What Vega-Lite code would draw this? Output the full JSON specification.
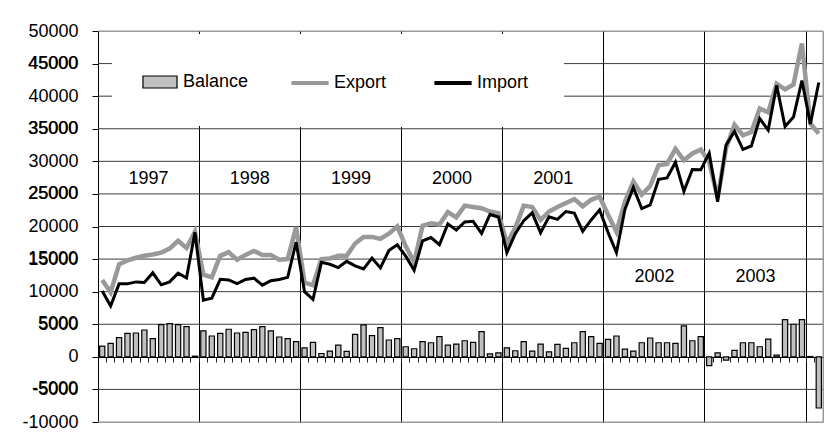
{
  "$schema": "https://vega.github.io/schema/vega-lite/v6.json",
  "autosize": {"type": "none"},
  "padding": {"left": 98, "top": 31, "right": 7, "bottom": 24},
  "width": 725,
  "height": 391,
  "background": "white",
  "config": {
    "font": "Liberation Sans",
    "view": {"stroke": "#999999", "strokeWidth": 1}
  },
  "datasets": {
    "trade": [
      {"month": "1997-01", "Export": 11800, "Import": 10100, "Balance": 1650},
      {"month": "1997-02", "Export": 9900, "Import": 7800, "Balance": 2060},
      {"month": "1997-03", "Export": 14200, "Import": 11200, "Balance": 2940},
      {"month": "1997-04", "Export": 14800, "Import": 11200, "Balance": 3600},
      {"month": "1997-05", "Export": 15200, "Import": 11500, "Balance": 3660},
      {"month": "1997-06", "Export": 15500, "Import": 11400, "Balance": 4120},
      {"month": "1997-07", "Export": 15700, "Import": 12900, "Balance": 2780},
      {"month": "1997-08", "Export": 16000, "Import": 11050, "Balance": 4950},
      {"month": "1997-09", "Export": 16600, "Import": 11500, "Balance": 5100},
      {"month": "1997-10", "Export": 17800, "Import": 12850, "Balance": 4950},
      {"month": "1997-11", "Export": 16700, "Import": 12100, "Balance": 4640},
      {"month": "1997-12", "Export": 19200, "Import": 19100, "Balance": 100},
      {"month": "1998-01", "Export": 12600, "Import": 8700, "Balance": 3970},
      {"month": "1998-02", "Export": 12200, "Import": 9000, "Balance": 3200},
      {"month": "1998-03", "Export": 15500, "Import": 11900, "Balance": 3600},
      {"month": "1998-04", "Export": 16050, "Import": 11800, "Balance": 4230},
      {"month": "1998-05", "Export": 14900, "Import": 11240, "Balance": 3660},
      {"month": "1998-06", "Export": 15640, "Import": 11880, "Balance": 3760},
      {"month": "1998-07", "Export": 16250, "Import": 12070, "Balance": 4180},
      {"month": "1998-08", "Export": 15640, "Import": 11000, "Balance": 4640},
      {"month": "1998-09", "Export": 15640, "Import": 11670, "Balance": 3970},
      {"month": "1998-10", "Export": 14900, "Import": 11860, "Balance": 3040},
      {"month": "1998-11", "Export": 15000, "Import": 12200, "Balance": 2780},
      {"month": "1998-12", "Export": 19900, "Import": 17600, "Balance": 2320},
      {"month": "1999-01", "Export": 11400, "Import": 10000, "Balance": 1390},
      {"month": "1999-02", "Export": 11000, "Import": 8800, "Balance": 2220},
      {"month": "1999-03", "Export": 15000, "Import": 14500, "Balance": 515},
      {"month": "1999-04", "Export": 15100, "Import": 14200, "Balance": 880},
      {"month": "1999-05", "Export": 15500, "Import": 13700, "Balance": 1800},
      {"month": "1999-06", "Export": 15500, "Import": 14650, "Balance": 825},
      {"month": "1999-07", "Export": 17400, "Import": 13950, "Balance": 3450},
      {"month": "1999-08", "Export": 18400, "Import": 13500, "Balance": 4900},
      {"month": "1999-09", "Export": 18400, "Import": 15150, "Balance": 3250},
      {"month": "1999-10", "Export": 18100, "Import": 13650, "Balance": 4480},
      {"month": "1999-11", "Export": 18900, "Import": 16300, "Balance": 2580},
      {"month": "1999-12", "Export": 20000, "Import": 17200, "Balance": 2780},
      {"month": "2000-01", "Export": 17000, "Import": 15450, "Balance": 1550},
      {"month": "2000-02", "Export": 14500, "Import": 13300, "Balance": 1240},
      {"month": "2000-03", "Export": 20100, "Import": 17800, "Balance": 2320},
      {"month": "2000-04", "Export": 20500, "Import": 18300, "Balance": 2160},
      {"month": "2000-05", "Export": 20300, "Import": 17200, "Balance": 3090},
      {"month": "2000-06", "Export": 22200, "Import": 20400, "Balance": 1800},
      {"month": "2000-07", "Export": 21400, "Import": 19450, "Balance": 1960},
      {"month": "2000-08", "Export": 23200, "Import": 20700, "Balance": 2470},
      {"month": "2000-09", "Export": 23000, "Import": 20800, "Balance": 2220},
      {"month": "2000-10", "Export": 22800, "Import": 18950, "Balance": 3870},
      {"month": "2000-11", "Export": 22300, "Import": 21850, "Balance": 460},
      {"month": "2000-12", "Export": 22050, "Import": 21450, "Balance": 620},
      {"month": "2001-01", "Export": 17400, "Import": 16000, "Balance": 1390},
      {"month": "2001-02", "Export": 19800, "Import": 18900, "Balance": 930},
      {"month": "2001-03", "Export": 23200, "Import": 20900, "Balance": 2320},
      {"month": "2001-04", "Export": 23000, "Import": 22100, "Balance": 880},
      {"month": "2001-05", "Export": 21000, "Import": 19050, "Balance": 1960},
      {"month": "2001-06", "Export": 22300, "Import": 21500, "Balance": 770},
      {"month": "2001-07", "Export": 23000, "Import": 21100, "Balance": 1910},
      {"month": "2001-08", "Export": 23600, "Import": 22300, "Balance": 1290},
      {"month": "2001-09", "Export": 24200, "Import": 22050, "Balance": 2160},
      {"month": "2001-10", "Export": 23100, "Import": 19250, "Balance": 3870},
      {"month": "2001-11", "Export": 24100, "Import": 21000, "Balance": 3090},
      {"month": "2001-12", "Export": 24600, "Import": 22550, "Balance": 2060},
      {"month": "2002-01", "Export": 21800, "Import": 19100, "Balance": 2680},
      {"month": "2002-02", "Export": 19200, "Import": 16000, "Balance": 3200},
      {"month": "2002-03", "Export": 23800, "Import": 22600, "Balance": 1190},
      {"month": "2002-04", "Export": 26900, "Import": 26000, "Balance": 880},
      {"month": "2002-05", "Export": 24900, "Import": 22750, "Balance": 2160},
      {"month": "2002-06", "Export": 26200, "Import": 23300, "Balance": 2890},
      {"month": "2002-07", "Export": 29400, "Import": 27250, "Balance": 2160},
      {"month": "2002-08", "Export": 29600, "Import": 27450, "Balance": 2160},
      {"month": "2002-09", "Export": 31900, "Import": 29850, "Balance": 2060},
      {"month": "2002-10", "Export": 30150, "Import": 25400, "Balance": 4740},
      {"month": "2002-11", "Export": 31200, "Import": 28750, "Balance": 2470},
      {"month": "2002-12", "Export": 31800, "Import": 28700, "Balance": 3090},
      {"month": "2003-01", "Export": 29900, "Import": 31250, "Balance": -1340},
      {"month": "2003-02", "Export": 24400, "Import": 23800, "Balance": 620},
      {"month": "2003-03", "Export": 32000, "Import": 32500, "Balance": -500},
      {"month": "2003-04", "Export": 35600, "Import": 34600, "Balance": 980},
      {"month": "2003-05", "Export": 34000, "Import": 31850, "Balance": 2160},
      {"month": "2003-06", "Export": 34500, "Import": 32350, "Balance": 2160},
      {"month": "2003-07", "Export": 38100, "Import": 36550, "Balance": 1550},
      {"month": "2003-08", "Export": 37500, "Import": 34800, "Balance": 2730},
      {"month": "2003-09", "Export": 41900, "Import": 41650, "Balance": 260},
      {"month": "2003-10", "Export": 41050, "Import": 35350, "Balance": 5720},
      {"month": "2003-11", "Export": 41800, "Import": 36800, "Balance": 5000},
      {"month": "2003-12", "Export": 48100, "Import": 42400, "Balance": 5720},
      {"month": "2004-01", "Export": 35800, "Import": 35750, "Balance": 50},
      {"month": "2004-02", "Export": 34250, "Import": 42100, "Balance": -7850}
    ],
    "years": [
      {"month": "1997-07", "label": "1997", "value": 27300},
      {"month": "1998-07", "label": "1998", "value": 27300},
      {"month": "1999-07", "label": "1999", "value": 27300},
      {"month": "2000-07", "label": "2000", "value": 27300},
      {"month": "2001-07", "label": "2001", "value": 27300},
      {"month": "2002-07", "label": "2002", "value": 12300},
      {"month": "2003-07", "label": "2003", "value": 12300}
    ],
    "gridlines": [
      {"month": "1997-01", "last": "2004-02", "value": -10000},
      {"month": "1997-01", "last": "2004-02", "value": -5000},
      {"month": "1997-01", "last": "2004-02", "value": 5000},
      {"month": "1997-01", "last": "2004-02", "value": 10000},
      {"month": "1997-01", "last": "2004-02", "value": 15000},
      {"month": "1997-01", "last": "2004-02", "value": 20000},
      {"month": "1997-01", "last": "2004-02", "value": 25000},
      {"month": "1997-01", "last": "2004-02", "value": 30000},
      {"month": "1997-01", "last": "2004-02", "value": 35000},
      {"month": "1997-01", "last": "2004-02", "value": 40000},
      {"month": "1997-01", "last": "2004-02", "value": 45000},
      {"month": "1997-01", "last": "2004-02", "value": 50000}
    ],
    "ticklabels": [
      {"month": "1997-01", "value": -5000, "label": "-5000"},
      {"month": "1997-01", "value": 5000, "label": "5000"},
      {"month": "1997-01", "value": 15000, "label": "15000"},
      {"month": "1997-01", "value": 25000, "label": "25000"},
      {"month": "1997-01", "value": 35000, "label": "35000"},
      {"month": "1997-01", "value": 45000, "label": "45000"}
    ],
    "edge": [{"month": "2004-02", "value": -10000, "value2": 50000}]
  },
  "encoding": {
    "y": {
      "field": "value", "type": "quantitative",
      "scale": {"domain": [-10000, 50000], "nice": false, "zero": false},
      "axis": {
        "title": null,
        "values": [-10000, -5000, 0, 5000, 10000, 15000, 20000, 25000, 30000, 35000, 40000, 45000, 50000],
        "labelExpr": "'' + datum.value",
        "labelOverlap": false,
        "labelFont": "Liberation Sans", "labelFontSize": 18, "labelColor": "black",
        "labelPadding": 14, "tickSize": 6, "tickColor": "black",
        "domainColor": "black", "domainWidth": 1,
        "grid": false
      }
    }
  },
  "layer": [
    {
      "data": {"name": "gridlines"},
      "mark": {"type": "rule", "strokeWidth": 1},
      "encoding": {
        "x": {"field": "month", "type": "ordinal", "bandPosition": 0},
        "x2": {"field": "last", "bandPosition": 1},
        "color": {"condition": {"test": "datum.value === 50000 || datum.value === -10000", "value": "#999999"}, "value": "#3a3a3a"}
      }
    },
    {
      "data": {"name": "trade"},
      "transform": [{"fold": ["Balance"], "as": ["series", "value"]}],
      "mark": {"type": "bar", "width": {"band": 0.62}, "stroke": "black", "strokeWidth": 1.2},
      "encoding": {
        "x": {
          "field": "month", "type": "ordinal",
          "scale": {"type": "band", "paddingInner": 0, "paddingOuter": 0},
          "axis": {
            "title": null, "labels": false,
            "domain": true, "domainColor": "black", "domainWidth": 1,
            "ticks": true, "tickColor": "#222222", "tickSize": 5, "tickWidth": 1,
            "bandPosition": 0, "offset": -65,
            "grid": true, "gridColor": "black", "gridWidth": 1,
            "gridOpacity": {"condition": {"test": "slice(datum.value, 5) === '01' && datum.value !== '1997-01'", "value": 1}, "value": 0}
          }
        },
        "fill": {
          "field": "series", "type": "nominal",
          "scale": {"domain": ["Balance"], "range": ["#c0c0c0"]},
          "legend": {
            "orient": "none", "legendX": 14, "legendY": 3, "title": null,
            "fillColor": "white", "padding": 35,
            "symbolType": "M-1.42,-0.5H1.42V0.5H-1.42Z", "symbolSize": 576,
            "symbolStrokeColor": "black", "symbolStrokeWidth": 1.2, "symbolOpacity": 1,
            "labelOffset": 10,
            "labelFont": "Liberation Sans", "labelFontSize": 18, "labelColor": "black"
          }
        }
      }
    },
    {
      "data": {"name": "trade"},
      "transform": [{"fold": ["Export"], "as": ["series", "value"]}],
      "mark": {"type": "line", "strokeWidth": 4.5},
      "encoding": {
        "x": {"field": "month", "type": "ordinal"},
        "stroke": {
          "field": "series", "type": "nominal",
          "scale": {"domain": ["Export", "Import"], "range": ["#999999", "#000000"]},
          "legend": {
            "orient": "none", "legendX": 163, "legendY": 3, "title": null,
            "direction": "horizontal", "columnPadding": 39,
            "fillColor": "white", "padding": 35,
            "symbolType": "M-1.55,0H1.55", "symbolSize": 576, "symbolStrokeWidth": 3.8, "symbolOpacity": 1,
            "labelOffset": 10,
            "labelFont": "Liberation Sans", "labelFontSize": 18, "labelColor": "black"
          }
        }
      }
    },
    {
      "data": {"name": "trade"},
      "transform": [{"fold": ["Import"], "as": ["series", "value"]}],
      "mark": {"type": "line", "strokeWidth": 3},
      "encoding": {
        "x": {"field": "month", "type": "ordinal"},
        "stroke": {"field": "series", "type": "nominal"}
      }
    },
    {
      "data": {"name": "years"},
      "mark": {"type": "text", "fontSize": 18, "font": "Liberation Sans", "baseline": "middle", "align": "center", "fill": "black"},
      "encoding": {
        "x": {"field": "month", "type": "ordinal", "bandPosition": 0},
        "text": {"field": "label"}
      }
    },
    {
      "data": {"name": "ticklabels"},
      "mark": {"type": "text", "fontSize": 18, "font": "Liberation Sans", "baseline": "middle", "align": "right", "dx": -20, "fill": "black"},
      "encoding": {
        "x": {"field": "month", "type": "ordinal", "bandPosition": 0},
        "text": {"field": "label"}
      }
    },
    {
      "data": {"name": "edge"},
      "mark": {"type": "rule", "strokeWidth": 1, "color": "#999999"},
      "encoding": {
        "x": {"field": "month", "type": "ordinal", "bandPosition": 1},
        "y2": {"field": "value2"}
      }
    }
  ]
}
